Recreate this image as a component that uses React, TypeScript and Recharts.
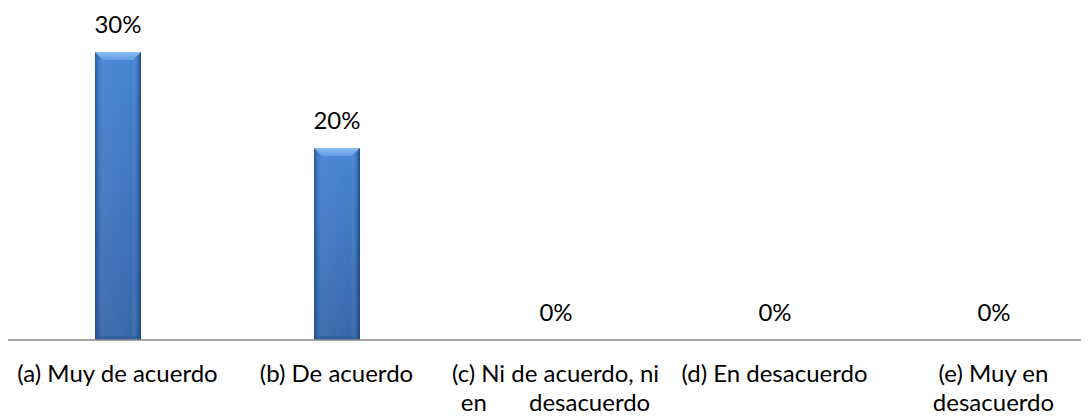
import React from "react";
import { BarChart, Bar, XAxis, YAxis, LabelList } from "recharts";

const categories = ["a", "b", "c", "d", "e"];
const values = [0.3, 0.2, 0, 0, 0];
const tickLines: string[][] = [
  ["(a) Muy de acuerdo"],
  ["(b) De acuerdo"],
  ["(c) Ni de acuerdo, ni", "en desacuerdo"],
  ["(d) En desacuerdo"],
  ["(e) Muy en", "desacuerdo"],
];
const spreadLine = "en desacuerdo";

const data = categories.map((c, i) => ({ cat: c, value: values[i] }));

const FONT = "Lato, 'Open Sans', sans-serif";

const BevelBar = (props: any) => {
  const { x, y, width, height } = props;
  if (!height || height <= 0) return null;
  const b = Math.min(8, height / 2);
  const s = 4;
  return (
    <g>
      <rect x={x} y={y} width={width} height={height} fill="url(#barBody)" />
      <rect x={x} y={y} width={width} height={height} fill="url(#barEdges)" />
      <polygon
        points={`${x},${y + height} ${x + s},${y + height - s} ${x + width - s},${y + height - s} ${x + width},${y + height}`}
        fill="#2d5a94"
        opacity={0.6}
      />
      <polygon
        points={`${x},${y} ${x + width},${y} ${x + width - b},${y + b} ${x + b},${y + b}`}
        fill="url(#bevelTop)"
      />
    </g>
  );
};

const CatTick = (props: any) => {
  const { x, y, index } = props;
  const lines = tickLines[index] || [];
  return (
    <g>
      {lines.map((ln, i) => (
        <text
          key={i}
          x={x}
          y={y + 42 + i * 29}
          textAnchor="middle"
          fontFamily={FONT}
          fontSize={24}
          fill="#000"
          style={ln === spreadLine ? { wordSpacing: "36px" } : undefined}
        >
          {ln}
        </text>
      ))}
    </g>
  );
};

export default function App() {
  return (
    <div style={{ width: 1081, height: 409, overflow: "hidden" }}>
      <BarChart
        width={1095}
        height={409}
        data={data}
        margin={{ top: 44, right: 0, bottom: 0, left: 0 }}
        barCategoryGap={0}
      >
        <defs>
          <linearGradient id="barBody" x1="0" y1="0" x2="0" y2="1">
            <stop offset="0%" stopColor="#4784d3" />
            <stop offset="100%" stopColor="#3767ab" />
          </linearGradient>
          <linearGradient id="barEdges" x1="0" y1="0" x2="1" y2="0">
            <stop offset="0%" stopColor="#1f4b85" stopOpacity={0.75} />
            <stop offset="8%" stopColor="#1f4b85" stopOpacity={0.15} />
            <stop offset="20%" stopColor="#ffffff" stopOpacity={0.05} />
            <stop offset="80%" stopColor="#ffffff" stopOpacity={0.0} />
            <stop offset="92%" stopColor="#1f4b85" stopOpacity={0.2} />
            <stop offset="100%" stopColor="#1a3f72" stopOpacity={0.85} />
          </linearGradient>
          <linearGradient id="bevelTop" x1="0" y1="0" x2="0" y2="1">
            <stop offset="0%" stopColor="#8fbef5" />
            <stop offset="100%" stopColor="#5f9be3" />
          </linearGradient>
        </defs>
        <XAxis
          dataKey="cat"
          tickLine={false}
          tickSize={0}
          tickMargin={0}
          height={77}
          interval={0}
          axisLine={{ stroke: "#8a8a8a", strokeWidth: 1.5 }}
          tick={<CatTick />}
        />
        <YAxis hide domain={[0, 0.3]} type="number" />
        <Bar dataKey="value" barSize={46} isAnimationActive={false} shape={<BevelBar />}>
          <LabelList
            dataKey="value"
            position="top"
            offset={19}
            formatter={(v: any) => `${Math.round(Number(v) * 100)}%`}
            fill="#000"
            fontFamily={FONT}
            fontSize={24}
          />
        </Bar>
      </BarChart>
    </div>
  );
}
